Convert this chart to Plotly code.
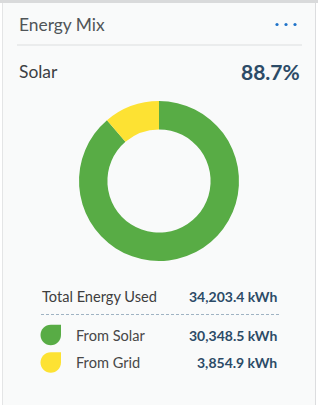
import plotly.graph_objects as go

# ---- data ----
sources = ["From Solar", "From Grid"]
energy_kwh = [30348.5, 3854.9]
total_kwh = 34203.4
solar_share = "88.7%"
colors = ["#58ac45", "#fde233"]

W, H = 318, 405
FONT = "Lato"
VALUE_COLOR = "#2c4b67"
LABEL_COLOR = "#3e3e3e"

fig = go.Figure()

# invisible scatter to create pixel-coordinate axes
fig.add_trace(go.Scatter(x=[0, W], y=[0, H], mode="markers",
                         marker=dict(opacity=0), hoverinfo="skip", showlegend=False))

# donut
cx, cy, r = 159, 181, 80
fig.add_trace(go.Pie(
    labels=sources, values=energy_kwh, hole=0.645, sort=False,
    direction="clockwise", rotation=0,
    marker=dict(colors=colors, line=dict(width=0)),
    textinfo="none", hoverinfo="label+value", showlegend=False,
    domain=dict(x=[(cx - r) / W, (cx + r) / W], y=[1 - (cy + r) / H, 1 - (cy - r) / H]),
))

shapes = []
annotations = []

# card borders
shapes.append(dict(type="rect", xref="x", yref="y", x0=0, x1=W, y0=0, y1=3,
                   fillcolor="#d9dadb", line=dict(width=0), layer="below"))
shapes.append(dict(type="rect", xref="x", yref="y", x0=0, x1=2, y0=3, y1=H,
                   fillcolor="#ffffff", line=dict(width=0), layer="below"))
shapes.append(dict(type="line", xref="x", yref="y", x0=2.5, x1=2.5, y0=3, y1=H,
                   line=dict(color="#e4e5e6", width=1)))
shapes.append(dict(type="rect", xref="x", yref="y", x0=316, x1=W, y0=3, y1=H,
                   fillcolor="#ffffff", line=dict(width=0), layer="below"))
shapes.append(dict(type="line", xref="x", yref="y", x0=315.5, x1=315.5, y0=3, y1=H,
                   line=dict(color="#dcdddf", width=1)))

# header divider
shapes.append(dict(type="line", xref="x", yref="y", x0=17, x1=302, y0=45, y1=45,
                   line=dict(color="#dcdedf", width=1)))

# menu dots
for dx in [277, 286, 295]:
    shapes.append(dict(type="circle", xref="x", yref="y", x0=dx - 1.6, x1=dx + 1.6,
                       y0=24.5 - 1.6, y1=24.5 + 1.6, fillcolor="#1f73c9", line=dict(width=0)))

# dashed separator
shapes.append(dict(type="line", xref="x", yref="y", x0=41, x1=279, y0=314.5, y1=314.5,
                   line=dict(color="#9fb3c3", width=1, dash="3px,2px")))

def leaf(x0, y0, s, color):
    k = 0.5523 * s / 2
    h = s / 2
    cxl, cyl = x0 + h, y0 + h
    x1, y1 = x0 + s, y0 + s
    path = (f"M {cxl},{y0} L {x1},{y0} L {x1},{cyl} "
            f"C {x1},{cyl + k} {cxl + k},{y1} {cxl},{y1} "
            f"C {cxl - k},{y1} {x0},{cyl + k} {x0},{cyl} "
            f"C {x0},{cyl - k} {cxl - k},{y0} {cxl},{y0} Z")
    return dict(type="path", xref="x", yref="y", path=path, fillcolor=color, line=dict(width=0))

row_y = [335, 362.5]
for i in range(len(sources)):
    shapes.append(leaf(40.5, row_y[i] - 10.3, 20.5, colors[i]))

def txt(x, y, s, size, color, anchor="left", weight="normal"):
    annotations.append(dict(x=x, y=y, xref="x", yref="y", text=s, showarrow=False,
                            xanchor=anchor, yanchor="middle",
                            font=dict(family=FONT, size=size, color=color, weight=weight)))

txt(17, 24, "Energy Mix", 17.4, "#505558")
txt(17, 71, "Solar", 17.4, "#3c4043")
txt(302, 71, solar_share, 21, VALUE_COLOR, "right", "bold")
txt(39.5, 296, "Total Energy Used", 14.6, LABEL_COLOR)
txt(279, 296, f"{total_kwh:,.1f} kWh", 14, VALUE_COLOR, "right", "bold")
for i in range(len(sources)):
    txt(73.5, row_y[i], sources[i], 14.6, "#484848")
    txt(279, row_y[i], f"{energy_kwh[i]:,.1f} kWh", 14, VALUE_COLOR, "right", "bold")

fig.update_layout(
    width=W, height=H, margin=dict(l=0, r=0, t=0, b=0),
    paper_bgcolor="#f9fafa", plot_bgcolor="rgba(0,0,0,0)",
    xaxis=dict(range=[0, W], visible=False, fixedrange=True, domain=[0, 1]),
    yaxis=dict(range=[H, 0], visible=False, fixedrange=True, domain=[0, 1]),
    shapes=shapes, annotations=annotations, showlegend=False,
)

fig.write_html("out.html")
